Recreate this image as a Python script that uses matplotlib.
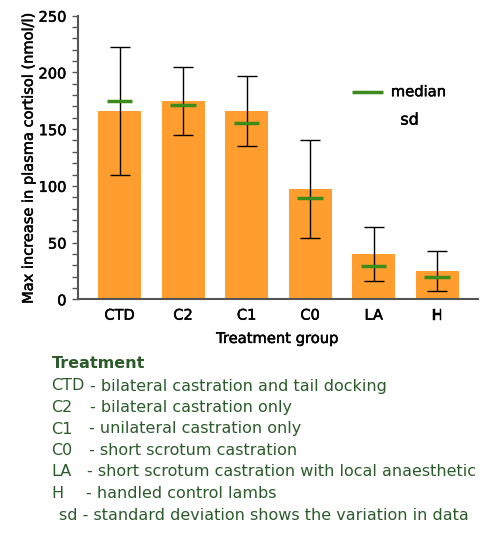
import matplotlib
matplotlib.use("Agg")
import matplotlib.pyplot as plt
from matplotlib.ticker import MultipleLocator
import matplotlib.patheffects as pe

categories = ["CTD", "C2", "C1", "C0", "LA", "H"]
means = [166, 175, 166, 97, 40, 25]
sds = [56, 30, 31, 43, 24, 18]
medians = [175, 171, 155, 89, 29, 20]

legend_codes = ["CTD", "C2", "C1", "C0", "LA", "H"]
legend_descs = [
    "- bilateral castration and tail docking",
    "- bilateral castration only",
    "- unilateral castration only",
    "- short scrotum castration",
    "- short scrotum castration with local anaesthetic",
    "- handled control lambs",
]
sd_note = "sd - standard deviation shows the variation in data"

BAR = "#FF9E2F"
GREEN = "#3C8C1C"
TXTGREEN = "#2B5B2B"
AXC = "#555555"

plt.rcParams['font.family'] = ['DejaVu Sans']
fig = plt.figure(figsize=(5.03, 5.42), dpi=100)
ax = fig.add_axes([0.1545, 0.4478, 0.7955, 0.5232])

heavy = [pe.withStroke(linewidth=0.35, foreground='black')]

x = list(range(len(categories)))
ax.bar(x, means, width=0.68, color=BAR, zorder=1)
ax.errorbar(x, means, yerr=sds, fmt='none', ecolor='black', elinewidth=1,
            capsize=7.5, capthick=1, zorder=3)
ax.hlines(medians, [i - 0.2 for i in x], [i + 0.2 for i in x], colors=GREEN,
          linewidth=2.5, zorder=4)

ax.set_xlim(-0.66, 5.64)
ax.set_ylim(0, 250)
ax.yaxis.set_major_locator(MultipleLocator(50))
ax.yaxis.set_minor_locator(MultipleLocator(10))
ax.set_xticks(x)
ax.set_xticklabels(categories)
ax.tick_params(axis='x', length=0, labelsize=10.5, pad=6)
ax.tick_params(axis='y', which='both', length=4, color=AXC, width=1, labelsize=10.5, pad=4)
for lbl in ax.get_xticklabels() + ax.get_yticklabels():
    lbl.set_path_effects(heavy)
for s in ['top', 'right']:
    ax.spines[s].set_visible(False)
for s in ['left', 'bottom']:
    ax.spines[s].set_color(AXC)
    ax.spines[s].set_linewidth(1.5)

xl = ax.set_xlabel("Treatment group", fontsize=10.6, labelpad=6)
yl = ax.set_ylabel("Max increase in plasma cortisol (nmol/l)", fontsize=10.5, labelpad=2)
xl.set_path_effects(heavy)
yl.set_path_effects(heavy)

# legend
ax.hlines([183], [3.66], [4.15], colors=GREEN, linewidth=2.5)
t1 = ax.text(4.27, 183, "median", fontsize=10.6, va='center', ha='left')
t2 = ax.text(4.42, 158, "sd", fontsize=11.5, va='center', ha='left')
t1.set_path_effects(heavy)
t2.set_path_effects(heavy)

# bottom text
W, H = 503, 542
def fy(py):
    return 1 - py / H
fig.text(52 / W, fy(364), "Treatment", fontsize=11.5, fontweight='bold',
         color=TXTGREEN, va='center')
ys = [386, 407.5, 429, 450.5, 472, 493.5]
dash_x = [90.5, 90, 89, 89, 87, 86]
for code, desc, py, dx in zip(legend_codes, legend_descs, ys, dash_x):
    fig.text(51 / W, fy(py), code, fontsize=11.5, color=TXTGREEN, va='center')
    fig.text(dx / W, fy(py), desc, fontsize=11.5, color=TXTGREEN, va='center')
fig.text(59 / W, fy(516), sd_note, fontsize=11.5, color=TXTGREEN, va='center')

fig.savefig("out.png", dpi=100)
